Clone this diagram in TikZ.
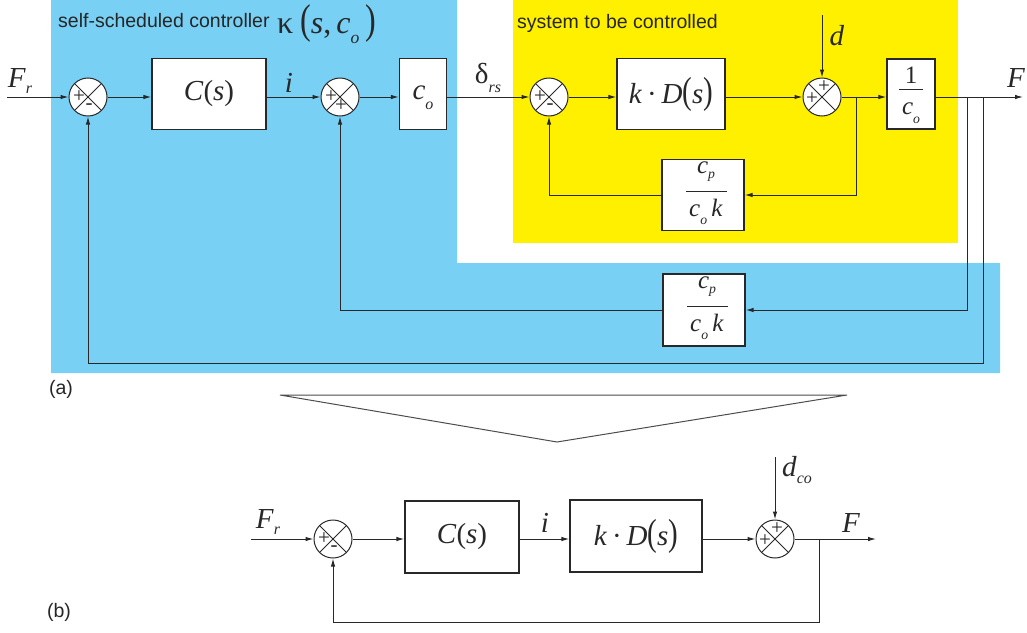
\documentclass[tikz,border=0pt]{standalone}
\usepackage{fontspec}
\setmainfont{Liberation Serif}
\setsansfont{Liberation Sans}
\usepackage{graphicx}
\usetikzlibrary{arrows.meta,calc}
\definecolor{bluebg}{RGB}{120,208,245}
\definecolor{yel}{RGB}{255,240,0}
\definecolor{lc}{RGB}{40,40,40}
\newcommand{\mi}[1]{\textit{#1}}
\newcommand{\sbt}[2][-0.28em]{\raisebox{#1}{\scalebox{0.55}{\itshape #2}}}
\newcommand{\bpar}[1]{\scalebox{1}[1.3]{#1}}
\begin{document}
\begin{tikzpicture}[x=1pt,y=-1pt,
  ln/.style={draw=lc, line width=1pt},
  arr/.style={ln, -{Latex[length=8pt,width=4.5pt]}},
  blk/.style={draw=lc, line width=1.3pt, fill=white, inner sep=0pt, text=lc},
  sj/.style={circle, draw=lc, line width=1pt, fill=white, minimum size=38pt, inner sep=0pt,
    path picture={\draw[lc, line width=0.9pt] (path picture bounding box.north west) -- (path picture bounding box.south east)
      (path picture bounding box.north east) -- (path picture bounding box.south west);}},
  sg/.style={inner sep=0pt, text=lc, font=\fontsize{21}{21}\selectfont},
  lab/.style={inner sep=0pt, text=lc, font=\fontsize{29}{30}\selectfont},
  frc/.style={inner sep=0pt, text=lc, font=\fontsize{25}{26}\selectfont},
  sf/.style={inner sep=0pt, text=black!85, font=\sffamily\fontsize{19.5}{21}\selectfont},
]
\useasboundingbox (0,0) rectangle (1027,632);
% backgrounds
\fill[bluebg] (51,0) -- (457,0) -- (457,263) -- (1000,263) -- (1000,373) -- (51,373) -- cycle;
\fill[yel] (513,0) rectangle (958,243);

% titles
\node[sf, anchor=base west] (t1) at (58,27) {self-scheduled controller};
\node[inner sep=0pt, text=lc, font=\fontsize{32}{34}\selectfont, anchor=west] (kap) at (277,24) {κ\hspace{7pt}\bpar{(}\mi{s},\hspace{5pt}\mi{c}\sbt[-0.3em]{o}\hspace{6pt}\bpar{)}};
\node[sf, anchor=base west] (t2) at (517,28) {system to be controlled};
\node[sf] (la) at (61,389) {(a)};
\node[sf] (lb) at (59,612) {(b)};

% ---------- top diagram ----------
\node[sj] (s1) at (88,97) {};
\node[sj] (s2) at (340,97) {};
\node[sj] (s3) at (549,97) {};
\node[sj] (s4) at (822,97) {};
\node[sg] at ($(s1)+(-9,0)$) {+};
\node[sg] at ($(s1)+(1,10)$) {-};
\node[sg] at ($(s2)+(-9,0)$) {+};
\node[sg] at ($(s2)+(1,9)$) {+};
\node[sg] at ($(s3)+(-9,0)$) {+};
\node[sg] at ($(s3)+(1,10)$) {-};
\node[sg] at ($(s4)+(-10,2)$) {+};
\node[sg] at ($(s4)+(2,-10)$) {+};

\node[blk, minimum width=114pt, minimum height=71pt] (C1) at (209,94) {};
\node[lab] at (C1) {\mi{C}(\mi{s})};
\node[blk, minimum width=47pt, minimum height=71pt] (co1) at (423,94) {};
\node[lab] at ($(co1)+(0,4)$) {\mi{c}\sbt[-0.35em]{o}};
\node[blk, minimum width=108pt, minimum height=71pt] (kD1) at (671,94) {};
\node[lab] at (kD1) {\mi{k}\,·\,\mi{D}\bpar{(}\mi{s}\bpar{)}};
\node[blk, minimum width=48pt, minimum height=70pt] (inv1) at (911,94) {};
\node[frc] at ($(inv1)+(0,-19)$) {1};
\draw[lc, line width=0.9pt] ($(inv1)+(-12,-5)$) -- ($(inv1)+(12,-5)$);
\node[frc] at ($(inv1)+(0,19)$) {\mi{c}\sbt[-0.35em]{o}};

\node[blk, minimum width=82pt, minimum height=71pt] (fb1) at (703,195) {};
\node[frc] at ($(fb1)+(3,-23)$) {\mi{c}\sbt[-0.2em]{p}};
\draw[lc, line width=0.9pt] ($(fb1)+(-17,-4)$) -- ($(fb1)+(24,-4)$);
\node[frc] at ($(fb1)+(3,17)$) {\mi{c}\sbt[-0.3em]{o}\,\mi{k}};

\node[blk, minimum width=82pt, minimum height=72pt] (fb2) at (704,310) {};
\node[frc] at ($(fb2)+(3,-23)$) {\mi{c}\sbt[-0.2em]{p}};
\draw[lc, line width=0.9pt] ($(fb2)+(-17,-4)$) -- ($(fb2)+(24,-4)$);
\node[frc] at ($(fb2)+(3,17)$) {\mi{c}\sbt[-0.3em]{o}\,\mi{k}};

\coordinate (inF) at (7,97);
\coordinate (outF) at (1023,97);
\coordinate (dIn) at (822,15);
\coordinate (b1) at (856,97);
\coordinate (b2) at (967,97);
\coordinate (b3) at (983,97);
\coordinate (c3) at (983,363);

\draw[arr] (inF) -- (s1);
\draw[arr] (s1.east) -- (s1.east -| C1.west);
\draw[arr] (C1.east |- s2) -- (s2.west);
\draw[arr] (s2.east) -- (s2.east -| co1.west);
\draw[arr] (co1.east |- s3) -- (s3.west);
\draw[arr] (s3.east) -- (s3.east -| kD1.west);
\draw[arr] (kD1.east |- s4) -- (s4.west);
\draw[arr] (s4.east) -- (s4.east -| inv1.west);
\draw[arr] (inv1.east |- s4) -- (outF);
\draw[arr] (dIn) -- (s4.north);
\draw[arr] (b1) |- (fb1.east);
\draw[arr] (fb1.west) -| (s3.south);
\draw[arr] (b2) |- (fb2.east);
\draw[arr] (fb2.west) -| (s2.south);
\draw[arr] (b3) -- (c3) -| (s1.south);

\node[lab] (Fr1) at (20,81) {\mi{F}\sbt[-0.22em]{r}};
\node[lab] (i1) at (289,83) {\mi{i}};
\node[lab] (drs) at (488,78) {δ\sbt[-0.3em]{rs}};
\node[lab] (d1) at (837,36) {\mi{d}};
\node[lab] (F1) at (1016,78) {\mi{F}};

% ---------- triangle ----------
\draw[draw=black!70, line width=1pt] (280,395) -- (847,395) -- (557,442) -- cycle;

% ---------- bottom diagram ----------
\node[sj] (u1) at (333,539) {};
\node[sj] (u2) at (775,539) {};
\node[sg] at ($(u1)+(-9,0)$) {+};
\node[sg] at ($(u1)+(1,10)$) {-};
\node[sg] at ($(u2)+(-10,2)$) {+};
\node[sg] at ($(u2)+(2,-10)$) {+};
\node[blk, minimum width=114pt, minimum height=72pt] (C2) at (462,537) {};
\node[lab] at (C2) {\mi{C}(\mi{s})};
\node[blk, minimum width=132pt, minimum height=72pt] (kD2) at (636,536) {};
\node[lab] at (kD2) {\mi{k}\,·\,\mi{D}\bpar{(}\mi{s}\bpar{)}};

\coordinate (inF2) at (251,539);
\coordinate (outF2) at (876,539);
\coordinate (dIn2) at (775,457);
\coordinate (b4) at (819,539);
\coordinate (c4) at (819,622);

\draw[arr] (inF2) -- (u1);
\draw[arr] (u1.east) -- (u1.east -| C2.west);
\draw[arr] (C2.east |- u1) -- (C2.east |- u1 -| kD2.west);
\draw[arr] (kD2.east |- u2) -- (u2.west);
\draw[arr] (u2.east) -- (outF2);
\draw[arr] (dIn2) -- (u2.north);
\draw[arr] (b4) -- (c4) -| (u1.south);

\node[lab] (Fr2) at (268,522) {\mi{F}\sbt[-0.22em]{r}};
\node[lab] (i2) at (545,523) {\mi{i}};
\node[lab] (dco) at (797,470) {\mi{d}\sbt[-0.25em]{co}};
\node[lab] (F2) at (851,523) {\mi{F}};
\end{tikzpicture}
\end{document}
